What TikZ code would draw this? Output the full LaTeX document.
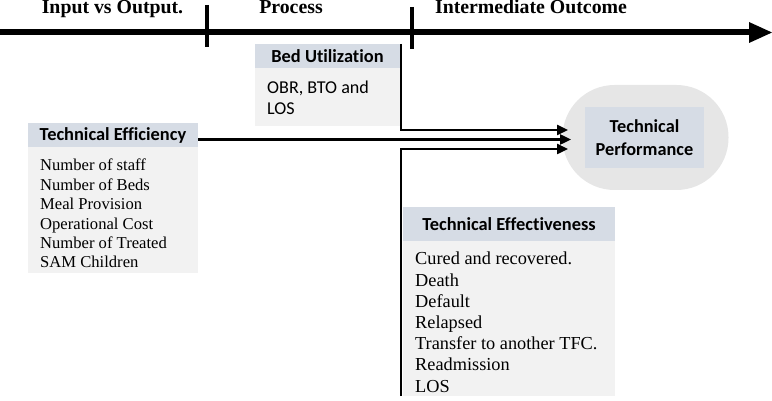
\documentclass[tikz,border=0pt]{standalone}
\usepackage{fontspec}
\setmainfont{Liberation Serif}
\newfontfamily\carlitofont[Ligatures={NoCommon}]{Carlito}
\usetikzlibrary{arrows.meta,positioning}
\definecolor{hdr}{HTML}{D6DCE5}
\definecolor{bdy}{HTML}{F2F2F2}
\definecolor{pill}{HTML}{E6E6E6}
\tikzset{
  toplabel/.style={font=\bfseries\fontsize{19.8}{20}\selectfont, anchor=base, inner sep=0},
  hdrbox/.style={fill=hdr, draw=none, inner sep=0, font=\carlitofont\bfseries\fontsize{18.4}{20}\selectfont},
  bdybox/.style={fill=bdy, draw=none, inner sep=0},
  listtext/.style={align=left, inner sep=0, anchor=base west},
  conn/.style={line width=2.4pt, -{Triangle[length=11pt,width=10pt]}},
  tick/.style={line width=3.5pt}
}
\begin{document}
\begin{tikzpicture}[x=1pt,y=-1pt]
\useasboundingbox (0,0) rectangle (772,401);
% timeline
\coordinate (tl0) at (0,32.5);
\coordinate (tl1) at (752,32.5);
\draw[line width=6pt] (tl0) -- (tl1);
\fill (749,22) -- (772,32.5) -- (749,43) -- cycle;
\coordinate (t1a) at (207,5); \coordinate (t1b) at (207,47);
\coordinate (t2a) at (412,7); \coordinate (t2b) at (412,49);
\draw[tick] (t1a) -- (t1b);
\draw[tick] (t2a) -- (t2b);
\node[toplabel] (lin) at (112.5,14) {Input vs Output.};
\node[toplabel] (lpr) at (291,14) {Process};
\node[toplabel] (lio) at (531,14) {Intermediate Outcome};
% Bed utilization
\node[hdrbox, minimum width=145pt, minimum height=24pt] (bedh) at (327.5,56) {Bed Utilization};
\node[bdybox, minimum width=145pt, minimum height=58pt, anchor=north] (bedb) at (bedh.south) {};
\node[listtext, font=\carlitofont\fontsize{18.1}{21}\selectfont] (bedt) at (267,115) {OBR, BTO and\\LOS};
% Technical efficiency
\node[hdrbox, minimum width=170pt, minimum height=24pt] (effh) at (113,135) {Technical Efficiency};
\node[bdybox, minimum width=170pt, minimum height=126pt, anchor=north] (effb) at (effh.south) {};
\node[listtext, font=\fontsize{16.6}{19.4}\selectfont] (efft) at (40,268) {Number of staff\\Number of Beds\\Meal Provision\\Operational Cost\\Number of Treated\\SAM Children};
% Technical performance
\node[fill=pill, draw=none, rounded corners=52pt, minimum width=166pt, minimum height=105pt] (tpo) at (645.5,137.5) {};
\node[fill=hdr, draw=none, minimum width=119pt, minimum height=61pt, align=center, font=\carlitofont\bfseries\fontsize{18.3}{22.5}\selectfont] (tp) at (644.5,137.5) {Technical\\Performance};
% Technical effectiveness
\node[hdrbox, minimum width=212pt, minimum height=34pt] (teh) at (509,224) {Technical Effectiveness};
\node[bdybox, minimum width=212pt, minimum height=155pt, anchor=north] (teb) at (teh.south) {};
\node[listtext, font=\fontsize{18.3}{21.2}\selectfont] (tet) at (415,392) {Cured and recovered.\\Death\\Default\\Relapsed\\Transfer to another TFC.\\Readmission\\LOS};
% connectors
\coordinate (c1s) at (401,44);
\coordinate (c1e) at (568,130);
\coordinate (c2e) at (571,139.5);
\coordinate (c3s) at (401,396);
\coordinate (c3e) at (568,149);
\draw[conn] (c1s) |- (c1e);
\draw[conn] (effh.east |- c2e) -- (c2e);
\draw[conn] (c3s) |- (c3e);
\end{tikzpicture}
\end{document}
